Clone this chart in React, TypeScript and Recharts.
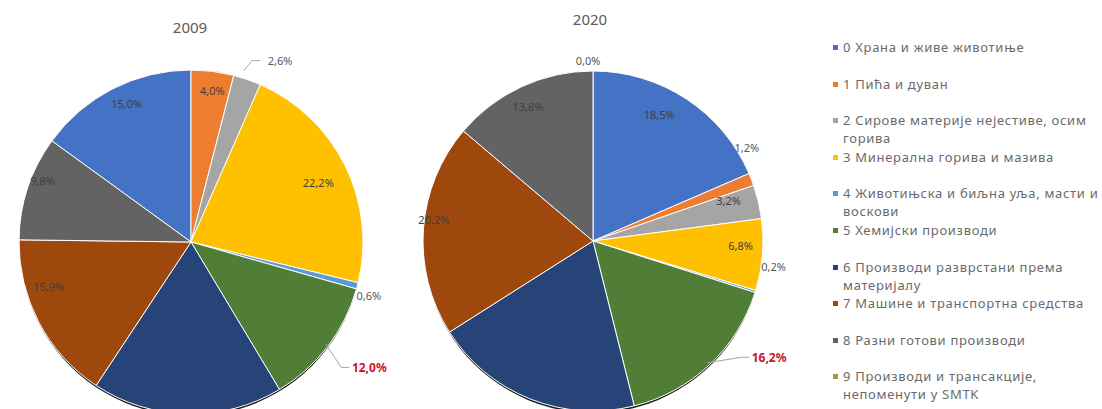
import React from 'react';
import { PieChart, Pie, Cell, Legend } from 'recharts';

// SMTK sectors (legend order)
const categories = [
  '0 Храна и живе животиње',
  '1 Пића и дуван',
  '2 Сирове материје нејестиве, осим\nгорива',
  '3 Минерална горива и мазива',
  '4 Животињска и биљна уља, масти и\nвоскови',
  '5 Хемијски производи',
  '6 Производи разврстани према\nматеријалу',
  '7 Машине и транспортна средства',
  '8 Разни готови производи',
  '9 Производи и трансакције,\nнепоменути у SMTK',
];

const years = ['2009', '2020'];
const share2009 = [15.0, 4.0, 2.6, 22.2, 0.6, 12.0, 17.9, 15.9, 9.8, 0.0];
const share2020 = [18.5, 1.2, 3.2, 6.8, 0.2, 16.2, 19.9, 20.2, 13.8, 0.0];

const colors = [
  '#4472C4', '#ED7D31', '#A5A5A5', '#FFC000', '#5B9BD5',
  '#507E36', '#264478', '#9E480E', '#636363', '#9C9F3A',
];

const data2009 = categories.map((name, i) => ({ name, value: share2009[i] }));
const data2020 = categories.map((name, i) => ({ name, value: share2020[i] }));

// label placement per slice: [radius, angle shift, kind]
type Spec = [number, number, string] | null;
const labels2009: Spec[] = [
  [146, -3, 'in'], [149, -3, 'in'], [200, -9, 'lead'], [143, -4, 'in'], [192, -3, 'out'],
  [225, 2, 'hi'], [146, 0, 'dark'], [146, -8, 'in'], [154, -3, 'in'], null,
];
const labels2020: Spec[] = [
  [141, 3, 'in'], [182, 8, 'out'], [145, 1, 'in'], [153, 1, 'in'], [188, 8, 'out'],
  [218, 13, 'hi'], [146, 0, 'dark'], [155, -2, 'in'], [143, 0, 'in'], [176, 0, 'out'],
];

const W = 1102;
const H = 409;
const PIE_A = { cx: 186, cy: 237, r: 172 };
const PIE_B = { cx: 588, cy: 236, r: 170 };
const RAD = Math.PI / 180;
const FONT = '"Noto Sans", sans-serif';

const fmt = (v: number) => `${v.toFixed(1).replace('.', ',')}%`;

const makeLabel = (specs: Spec[], pie: { cx: number; cy: number; r: number }) => (props: any) => {
  const { midAngle, index, value } = props;
  const spec = specs[index];
  if (!spec) return null;
  const [r, shift, kind] = spec;
  const a = (midAngle + shift) * RAD;
  const x = pie.cx + r * Math.cos(a);
  const y = pie.cy - r * Math.sin(a);
  let fill = '#404040';
  if (kind === 'out' || kind === 'lead') fill = '#595959';
  if (kind === 'hi') fill = '#D0102A';
  if (kind === 'dark') fill = '#28457a';
  let lead = null;
  if (kind === 'lead' || kind === 'hi') {
    const m = midAngle * RAD;
    const sx = pie.cx + (pie.r + 4) * Math.cos(m);
    const sy = pie.cy - (pie.r + 4) * Math.sin(m);
    const ex = x - 20;
    const ey = y;
    lead = (
      <path
        d={`M${sx},${sy} L${ex - 8},${ey} L${ex},${ey}`}
        stroke="#A6A6A6"
        strokeWidth={1}
        fill="none"
      />
    );
  }
  return (
    <g key={`lbl-${index}`}>
      {lead}
      <text
        x={x}
        y={y}
        fill={fill}
        fontSize={kind === 'hi' ? 12 : 11}
        fontWeight={kind === 'hi' ? 700 : 400}
        fontFamily={FONT}
        textAnchor="middle"
        dominantBaseline="central"
      >
        {fmt(value)}
      </text>
    </g>
  );
};

const LegendBox = () => (
  <div style={{ position: 'relative', width: 280, height: H, fontFamily: FONT }}>
    {categories.map((c, i) => {
      const lines = c.split('\n');
      const top = 47 + i * 36.6;
      return (
        <div key={c} style={{ position: 'absolute', left: 0, top: top - 9, width: 280 }}>
          <div
            style={{
              position: 'absolute',
              left: 0,
              top: 7,
              width: 5,
              height: 5,
              background: colors[i],
            }}
          />
          {lines.map((l, j) => (
            <div
              key={j}
              style={{
                position: 'absolute',
                left: 10,
                top: j * 18,
                fontSize: 13,
                letterSpacing: 0.7,
                lineHeight: '18px',
                color: '#6a6a6a',
                whiteSpace: 'nowrap',
              }}
            >
              {l}
            </div>
          ))}
        </div>
      );
    })}
  </div>
);

const App = () => {
  const titleStyle: React.CSSProperties = {
    position: 'absolute',
    fontFamily: FONT,
    fontSize: 15,
    color: '#595959',
    transform: 'translateX(-50%)',
  };
  return (
    <div style={{ position: 'absolute', left: 0, top: 0, width: W, height: H, background: '#fff' }}>
      <PieChart width={W} height={H}>
        {/* dark rim under each pie */}
        <Pie
          data={[{ value: 1 }]}
          dataKey="value"
          cx={PIE_A.cx}
          cy={PIE_A.cy + 3}
          outerRadius={PIE_A.r - 1}
          fill="#1c1c1c"
          stroke="none"
          isAnimationActive={false}
          legendType="none"
        />
        <Pie
          data={[{ value: 1 }]}
          dataKey="value"
          cx={PIE_B.cx}
          cy={PIE_B.cy + 3}
          outerRadius={PIE_B.r - 1}
          fill="#1c1c1c"
          stroke="none"
          isAnimationActive={false}
          legendType="none"
        />
        <Pie
          data={data2009}
          dataKey="value"
          nameKey="name"
          cx={PIE_A.cx}
          cy={PIE_A.cy}
          outerRadius={PIE_A.r}
          startAngle={144}
          endAngle={-216}
          stroke="#ffffff"
          strokeWidth={1}
          label={makeLabel(labels2009, PIE_A)}
          labelLine={false}
          isAnimationActive={false}
        >
          {data2009.map((d, i) => (
            <Cell key={`a-${i}`} fill={colors[i]} />
          ))}
        </Pie>
        <Pie
          data={data2020}
          dataKey="value"
          nameKey="name"
          cx={PIE_B.cx}
          cy={PIE_B.cy}
          outerRadius={PIE_B.r}
          startAngle={90}
          endAngle={-270}
          stroke="#ffffff"
          strokeWidth={1}
          label={makeLabel(labels2020, PIE_B)}
          labelLine={false}
          isAnimationActive={false}
        >
          {data2020.map((d, i) => (
            <Cell key={`b-${i}`} fill={colors[i]} />
          ))}
        </Pie>
        <Legend
          content={() => <LegendBox />}
          wrapperStyle={{ position: 'absolute', left: 833, top: 0, width: 280, height: H }}
        />
      </PieChart>
      <div style={{ ...titleStyle, left: 190, top: 17 }}>{years[0]}</div>
      <div style={{ ...titleStyle, left: 590, top: 9 }}>{years[1]}</div>
    </div>
  );
};

export default App;
